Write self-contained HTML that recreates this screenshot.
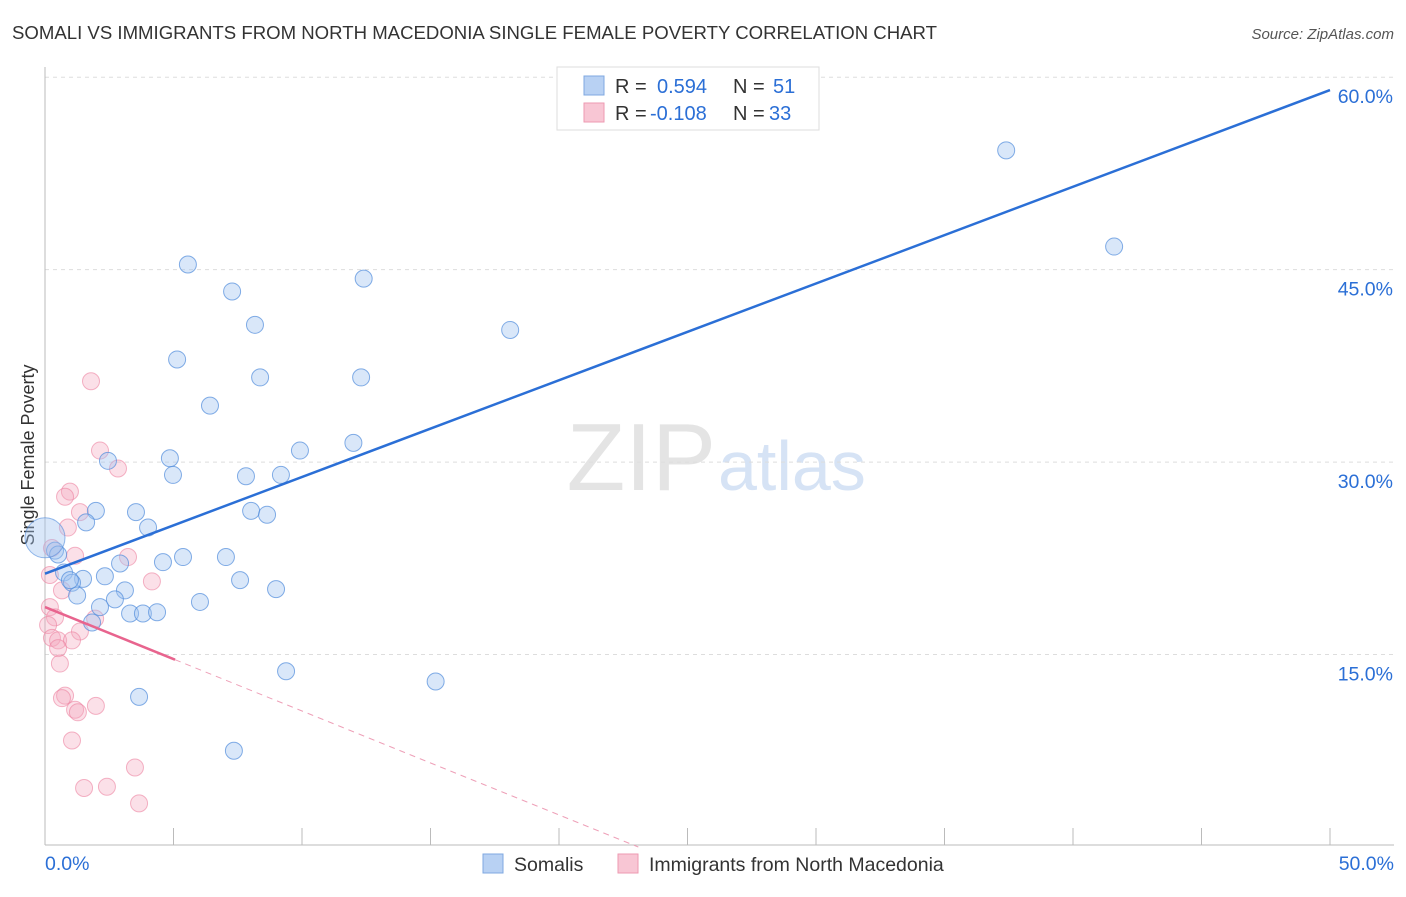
<!DOCTYPE html>
<html><head><meta charset="utf-8"><style>
body{margin:0;background:#fff;font-family:"Liberation Sans",sans-serif}
svg text{font-family:"Liberation Sans",sans-serif}
</style></head><body>
<svg id="c" width="1406" height="892" xmlns="http://www.w3.org/2000/svg">
<text x="12" y="39" font-size="18.6" fill="#333">SOMALI VS IMMIGRANTS FROM NORTH MACEDONIA SINGLE FEMALE POVERTY CORRELATION CHART</text>
<text x="1394" y="39" font-size="15" fill="#555" font-style="italic" text-anchor="end">Source: ZipAtlas.com</text>
<text x="716" y="490" font-size="96" fill="#e4e4e4" font-family="Liberation Serif" text-anchor="end">ZIP</text>
<text x="718" y="490" font-size="70" fill="#d6e3f5">atlas</text>
<text transform="translate(34,455) rotate(-90)" font-size="18" fill="#333" text-anchor="middle">Single Female Poverty</text>
<g id="grid"></g><g id="marks"></g>
<g>
<rect x="557" y="67" width="262" height="63" fill="#fff" stroke="#ddd"/>
<rect x="584" y="76" width="20" height="19" fill="#b8d1f3" stroke="#7fa8e0"/>
<rect x="584" y="103" width="20" height="19" fill="#f8c6d4" stroke="#ee9ab2"/>
<text x="615" y="93" font-size="20" fill="#333">R = <tspan x="657" fill="#2b6fd6">0.594</tspan><tspan x="733">N = </tspan><tspan x="773" fill="#2b6fd6">51</tspan></text>
<text x="615" y="120" font-size="20" fill="#333">R = <tspan x="650" fill="#2b6fd6">-0.108</tspan><tspan x="733">N = </tspan><tspan x="769" fill="#2b6fd6">33</tspan></text>
</g>
<g>
<rect x="483" y="854" width="20" height="19" fill="#b8d1f3" stroke="#7fa8e0"/>
<text x="514" y="871" font-size="19.5" fill="#333">Somalis</text>
<rect x="618" y="854" width="20" height="19" fill="#f8c6d4" stroke="#ee9ab2"/>
<text x="649" y="871" font-size="19.5" fill="#333">Immigrants from North Macedonia</text>
</g>
</svg>
<script>
const yTicks=[15,30,45,60];
const yTickLabels=["15.0%","30.0%","45.0%","60.0%"];
const xTickLabels=["0.0%","50.0%"];
const somaliX=[37.4,41.6,5.56,7.28,12.4,8.17,18.1,5.14,8.37,12.3,6.42,12.0,9.92,2.45,4.86,4.98,7.82,9.18,1.98,3.54,8.02,8.64,1.60,4.01,0.39,0.51,5.37,7.04,4.59,2.92,0.74,1.48,2.33,1.05,7.59,3.11,8.99,1.25,2.72,2.14,6.03,3.31,3.81,4.36,1.83,9.38,15.2,3.66,7.35,0.97];
const somaliY=[54.3,46.8,45.4,43.3,44.3,40.7,40.3,38.0,36.6,36.6,34.4,31.5,30.9,30.1,30.3,29.0,28.9,29.0,26.2,26.1,26.2,25.9,25.3,24.9,23.1,22.8,22.6,22.6,22.2,22.1,21.4,20.9,21.1,20.6,20.8,20.0,20.1,19.6,19.3,18.7,19.1,18.2,18.2,18.3,17.5,13.7,12.9,11.7,7.5,20.8];
const macX=[1.79,2.14,2.84,0.97,0.78,1.36,0.89,0.27,1.17,3.23,0.19,4.16,0.66,0.19,0.39,0.12,1.95,1.36,0.27,0.51,1.05,0.51,0.58,0.78,0.66,1.98,1.17,1.28,1.05,3.50,1.52,2.41,3.66];
const macY=[36.3,30.9,29.5,27.7,27.3,26.1,24.9,23.3,22.7,22.6,21.2,20.7,20.0,18.7,17.9,17.3,17.8,16.8,16.3,16.1,16.1,15.5,14.3,11.8,11.6,11.0,10.7,10.5,8.3,6.2,4.6,4.7,3.4];
const somaliTrend=[21.3,59.0]; // y at x=0, x=50
const macTrend=[18.7,-0.81]; // intercept, slope
const NS="http://www.w3.org/2000/svg";
const X=v=>45+v*25.7, Y=v=>847-v*12.83;
function mk(t,a,p){const e=document.createElementNS(NS,t);for(const k in a)e.setAttribute(k,a[k]);p.appendChild(e);return e;}
const grid=document.getElementById('grid'),marks=document.getElementById('marks');
yTicks.forEach((t,i)=>{
 const l=mk('line',{x1:45,x2:1394,y1:Y(t),y2:Y(t),stroke:'#ddd','stroke-dasharray':'4,4'},grid);
 
 
 const tx=mk('text',{x:1393,y:Y(t)+26,'font-size':19.5,fill:'#2b6fd6','text-anchor':'end'},grid);tx.textContent=yTickLabels[i];
 
 
});
const ya=mk('line',{x1:45,x2:45,y1:67,y2:845,stroke:'#bbb'},grid);


const xa=mk('line',{x1:45,x2:1394,y1:845,y2:845,stroke:'#bbb'},grid);


for(let i=0;i<=10;i++){mk('line',{x1:X(i*5),x2:X(i*5),y1:828,y2:845,stroke:'#bbb'},grid);}
[[0,'start',45],[50,'end',1394]].forEach((d,i)=>{const t=mk('text',{x:d[2],y:870,'font-size':19.5,fill:'#2b6fd6','text-anchor':d[1]},grid);t.textContent=xTickLabels[i];
 
 });
macX.forEach((x,i)=>{const c=mk('circle',{cx:X(x),cy:Y(macY[i]),r:8.5,fill:'rgba(244,166,190,0.35)',stroke:'rgba(236,130,160,0.6)','stroke-width':1},marks);
 
 });
somaliX.forEach((x,i)=>{const c=mk('circle',{cx:X(x),cy:Y(somaliY[i]),r:8.5,fill:'rgba(160,195,240,0.4)',stroke:'rgba(80,140,220,0.7)','stroke-width':1},marks);
 
 });
const big=mk('circle',{cx:X(0),cy:Y(24.1),r:20,fill:'rgba(160,195,240,0.4)',stroke:'rgba(80,140,220,0.6)'},marks);


const bt=mk('line',{x1:X(0),y1:Y(somaliTrend[0]),x2:X(50),y2:Y(somaliTrend[1]),stroke:'#2b6fd6','stroke-width':2.5},marks);


const x0=-macTrend[0]/macTrend[1];
const pt=mk('line',{x1:X(0),y1:Y(macTrend[0]),x2:X(5.06),y2:Y(macTrend[0]+macTrend[1]*5.06),stroke:'#e8648e','stroke-width':2.5},marks);


const pd=mk('line',{x1:X(5.06),y1:Y(macTrend[0]+macTrend[1]*5.06),x2:X(x0),y2:Y(0),stroke:'#eea0b8','stroke-width':1,'stroke-dasharray':'6,5'},marks);


</script>
</body></html>
